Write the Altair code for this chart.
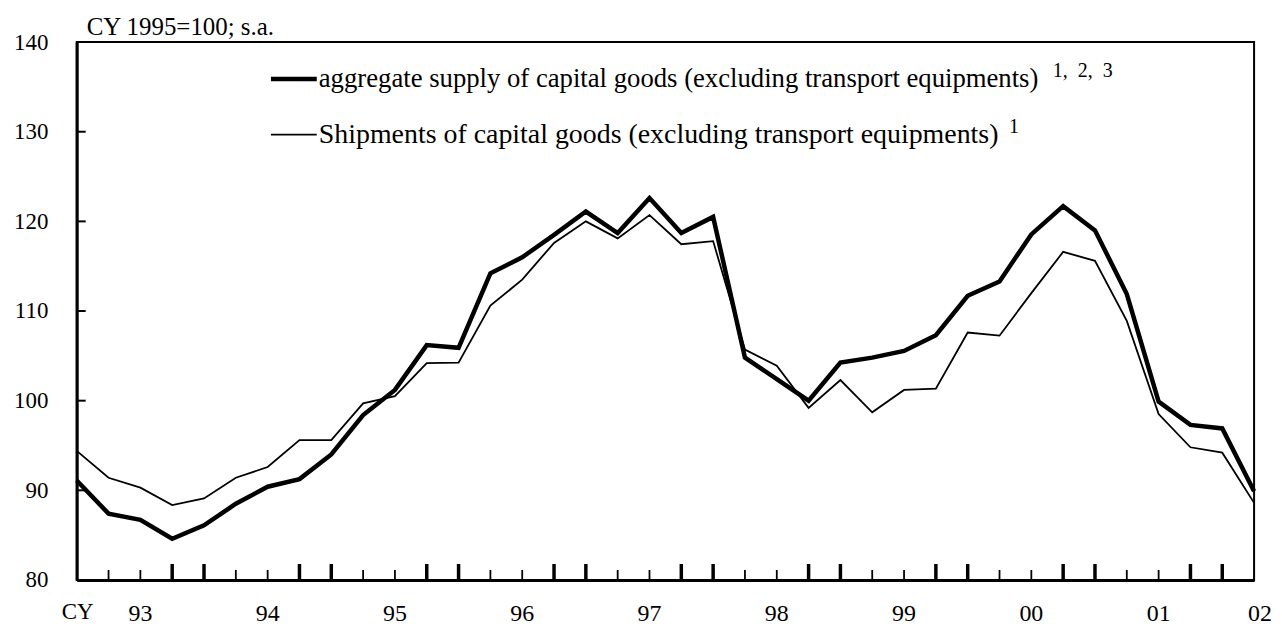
import altair as alt
import pandas as pd

# ---- data ----
quarter_idx = list(range(38))
aggregate_supply = [91.1, 87.4, 86.7, 84.6, 86.1, 88.5, 90.4, 91.25, 94.0, 98.4,
                    101.2, 106.2, 105.9, 114.2, 116.0, 118.5, 121.1, 118.7, 122.6, 118.7,
                    120.5, 104.8, 102.4, 100.0, 104.25, 104.8, 105.55, 107.3, 111.7, 113.3,
                    118.55, 121.7, 119.0, 111.9, 99.9, 97.3, 96.9, 89.9]
shipments = [94.4, 91.4, 90.3, 88.35, 89.1, 91.4, 92.6, 95.6, 95.6, 99.7,
             100.5, 104.2, 104.25, 110.6, 113.5, 117.6, 120.0, 118.1, 120.7, 117.45,
             117.8, 105.7, 103.9, 99.2, 102.3, 98.7, 101.2, 101.35, 107.6, 107.25,
             112.0, 116.6, 115.6, 108.9, 98.5, 94.8, 94.2, 88.6]
year_label_pos = [2, 6, 10, 14, 18, 22, 26, 30, 34, 37]
year_labels = ["93", "94", "95", "96", "97", "98", "99", "00", "01", "02"]
minor_tick_pos = [1, 2, 5, 6, 9, 10, 13, 14, 17, 18, 21, 22, 25, 26, 29, 30, 33, 34]
major_tick_pos = [3, 4, 7, 8, 11, 12, 15, 16, 19, 20, 23, 24, 27, 28, 31, 32, 35, 36]
y_tick_values = [90, 100, 110, 120, 130]
y_label_values = [80, 90, 100, 110, 120, 130, 140]

unit_text = "CY 1995=100; s.a."
legend_supply = "aggregate supply of capital goods (excluding transport equipments)"
legend_supply_note = "1,\u00a0\u00a02,\u00a0\u00a03"
legend_ship = "Shipments of capital goods (excluding transport equipments)"
legend_ship_note = "1"

W, H = 1182, 540
FONT = "Liberation Serif"

xs = alt.Scale(domain=[0, 37], nice=False, zero=False)
ys = alt.Scale(domain=[80, 140], nice=False, zero=False)

df = pd.DataFrame({"q": quarter_idx, "supply": aggregate_supply, "ship": shipments})

x_enc = alt.X("q:Q", scale=xs, axis=alt.Axis(title=None, labels=False, ticks=False, grid=False,
                                             domainColor="black", domainWidth=3))

thin_line = alt.Chart(df).mark_line(color="black", strokeWidth=1.8).encode(
    x=x_enc,
    y=alt.Y("ship:Q", scale=ys,
            axis=alt.Axis(title=None, values=y_label_values, ticks=False, grid=False,
                          labelFont=FONT, labelFontSize=23, labelColor="black",
                          labelPadding=29, domainColor="black", domainWidth=3,
                          labelFlush=False)),
)
thick_line = alt.Chart(df).mark_line(color="black", strokeWidth=4.5).encode(
    x=alt.X("q:Q", scale=xs),
    y=alt.Y("supply:Q", scale=ys),
)

minor_df = pd.DataFrame({"pos": minor_tick_pos})
major_df = pd.DataFrame({"pos": major_tick_pos})
minor_ticks = alt.Chart(minor_df).mark_rule(color="black", strokeWidth=1.8).encode(
    x=alt.X("pos:Q", scale=xs), y=alt.value(H), y2=alt.value(H - 10))
major_ticks = alt.Chart(major_df).mark_rule(color="black", strokeWidth=3.5).encode(
    x=alt.X("pos:Q", scale=xs), y=alt.value(H), y2=alt.value(H - 16))

ytick_df = pd.DataFrame({"v": y_tick_values})
y_ticks = alt.Chart(ytick_df).mark_rule(color="black", strokeWidth=2).encode(
    y=alt.Y("v:Q", scale=ys), x=alt.value(0), x2=alt.value(9))

xlab_df = pd.DataFrame({"pos": year_label_pos, "lab": year_labels})
x_labels = alt.Chart(xlab_df).transform_filter(alt.datum.lab != "02").mark_text(
    font=FONT, fontSize=24, color="black", baseline="middle", align="center").encode(
    x=alt.X("pos:Q", scale=xs), y=alt.value(574), text="lab:N")
x_label_last = alt.Chart(xlab_df).transform_filter(alt.datum.lab == "02").mark_text(
    font=FONT, fontSize=24, color="black", baseline="middle", align="center", dx=6).encode(
    x=alt.X("pos:Q", scale=xs), y=alt.value(574), text="lab:N")


def text_at(t, x, y, size, align="left", baseline="middle"):
    return alt.Chart(pd.DataFrame({"t": [t]})).mark_text(
        font=FONT, fontSize=size, color="black", align=align, baseline=baseline
    ).encode(x=alt.value(x), y=alt.value(y), text="t:N")


def rule_at(x1, x2, y, w):
    return alt.Chart(pd.DataFrame({"a": [0]})).mark_rule(color="black", strokeWidth=w).encode(
        x=alt.value(x1), x2=alt.value(x2), y=alt.value(y))


cy_label = text_at("CY", 1, 572, 23, align="center")
unit_label = text_at(unit_text, 10, -15, 25)
leg1_line = rule_at(195, 241, 37, 4.5)
leg1_text = text_at(legend_supply, 243, 37, 26.8)
leg1_note = text_at(legend_supply_note, 980, 29, 20)
leg2_line = rule_at(195, 241, 93, 1.8)
leg2_text = text_at(legend_ship, 243, 93, 28)
leg2_note = text_at(legend_ship_note, 936, 85, 20)

chart = alt.layer(
    thin_line, thick_line, minor_ticks, major_ticks, y_ticks, x_labels, x_label_last,
    cy_label, unit_label, leg1_line, leg1_text, leg1_note, leg2_line, leg2_text, leg2_note,
).properties(
    width=W, height=H,
    autosize=alt.AutoSizeParams(type="none"),
    padding={"left": 69, "top": 33, "right": 20, "bottom": 46},
).configure_view(stroke="black", strokeWidth=2)

chart.save("out.html", embed_options={"renderer": "svg", "actions": False})
